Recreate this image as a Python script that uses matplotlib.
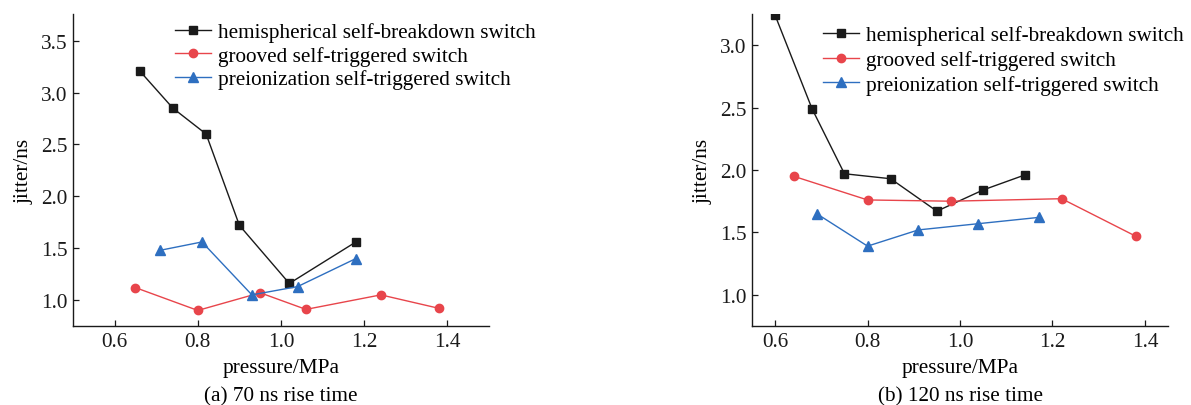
import matplotlib
matplotlib.use("Agg")
import matplotlib.pyplot as plt

plt.rcParams['font.family'] = ['Liberation Serif', 'DejaVu Serif']
plt.rcParams['mathtext.fontset'] = 'stix'

# (a) 70 ns rise time
a_hemi_p = [0.66, 0.74, 0.82, 0.90, 1.02, 1.18]
a_hemi_j = [3.21, 2.85, 2.60, 1.72, 1.16, 1.56]
a_groove_p = [0.65, 0.80, 0.95, 1.06, 1.24, 1.38]
a_groove_j = [1.12, 0.90, 1.07, 0.91, 1.05, 0.92]
a_preion_p = [0.71, 0.81, 0.93, 1.04, 1.18]
a_preion_j = [1.48, 1.56, 1.05, 1.13, 1.40]

# (b) 120 ns rise time
b_hemi_p = [0.60, 0.68, 0.75, 0.85, 0.95, 1.05, 1.14]
b_hemi_j = [3.24, 2.49, 1.97, 1.93, 1.67, 1.84, 1.96]
b_groove_p = [0.64, 0.80, 0.98, 1.22, 1.38]
b_groove_j = [1.95, 1.76, 1.75, 1.77, 1.47]
b_preion_p = [0.69, 0.80, 0.91, 1.04, 1.17]
b_preion_j = [1.65, 1.39, 1.52, 1.57, 1.62]

series_names = ["hemispherical self-breakdown switch",
                "grooved self-triggered switch",
                "preionization self-triggered switch"]
x_ticks = [0.6, 0.8, 1.0, 1.2, 1.4]
a_y_ticks = [1.0, 1.5, 2.0, 2.5, 3.0, 3.5]
b_y_ticks = [1.0, 1.5, 2.0, 2.5, 3.0]
captions = ["(a) 70 ns rise time", "(b) 120 ns rise time"]

W, H = 1191, 406
fig = plt.figure(figsize=(W / 100, H / 100), dpi=100)

BLACK = "#1a1a1a"
RED = "#e8454b"
BLUE = "#2e6fc0"
FS = 15.3


def px_axes(x0, y0, x1, y1):
    return fig.add_axes([x0 / W, 1 - y1 / H, (x1 - x0) / W, (y1 - y0) / H])


def draw_panel(ax, data, xlim, ylim, yticks, caption, leg_xy, cx, spacing):
    (hp, hj), (gp, gj), (pp, pj) = data
    ax.plot(hp, hj, color=BLACK, lw=1.0, marker='s', ms=5.5,
            mfc=BLACK, mec=BLACK, label=series_names[0])
    ax.plot(gp, gj, color=RED, lw=1.0, marker='o', ms=6.0,
            mfc=RED, mec=RED, label=series_names[1])
    ax.plot(pp, pj, color=BLUE, lw=1.0, marker='^', ms=6.5,
            mfc=BLUE, mec=BLUE, label=series_names[2])
    ax.set_xlim(*xlim)
    ax.set_ylim(*ylim)
    ax.set_xticks(x_ticks)
    ax.set_yticks(yticks)
    ax.set_xticklabels([f"{v:.1f}" for v in x_ticks])
    ax.set_yticklabels([f"{v:.1f}" for v in yticks])
    for s in ("top", "right"):
        ax.spines[s].set_visible(False)
    for s in ("left", "bottom"):
        ax.spines[s].set_linewidth(1.0)
        ax.spines[s].set_color(BLACK)
    ax.tick_params(direction='in', length=4, width=0.9, labelsize=FS,
                   colors=BLACK, pad=4)
    ax.set_ylabel("jitter/ns", fontsize=FS, labelpad=5)
    fig.text(cx / W, 1 - 373 / H, "pressure/MPa", ha='center',
             va='baseline', fontsize=FS)
    fig.text(cx / W, 1 - 401.5 / H, caption, ha='center',
             va='baseline', fontsize=FS)
    ax.legend(loc='upper left', bbox_to_anchor=(leg_xy[0] / W, 1 - leg_xy[1] / H),
              bbox_transform=fig.transFigure, frameon=False, fontsize=FS,
              borderpad=0, borderaxespad=0, handlelength=1.7,
              handletextpad=0.32, labelspacing=spacing)


ax1 = px_axes(73, 15, 489, 327)
draw_panel(ax1,
           [(a_hemi_p, a_hemi_j), (a_groove_p, a_groove_j), (a_preion_p, a_preion_j)],
           (0.5, 1.5), (0.75, 3.757), a_y_ticks, captions[0], (175, 23.5), 281, 0.17)

ax2 = px_axes(752, 15, 1168, 327)
draw_panel(ax2,
           [(b_hemi_p, b_hemi_j), (b_groove_p, b_groove_j), (b_preion_p, b_preion_j)],
           (0.55, 1.45), (0.75, 3.25), b_y_ticks, captions[1], (823, 26.5), 960, 0.22)

fig.savefig("out.png", dpi=100)
